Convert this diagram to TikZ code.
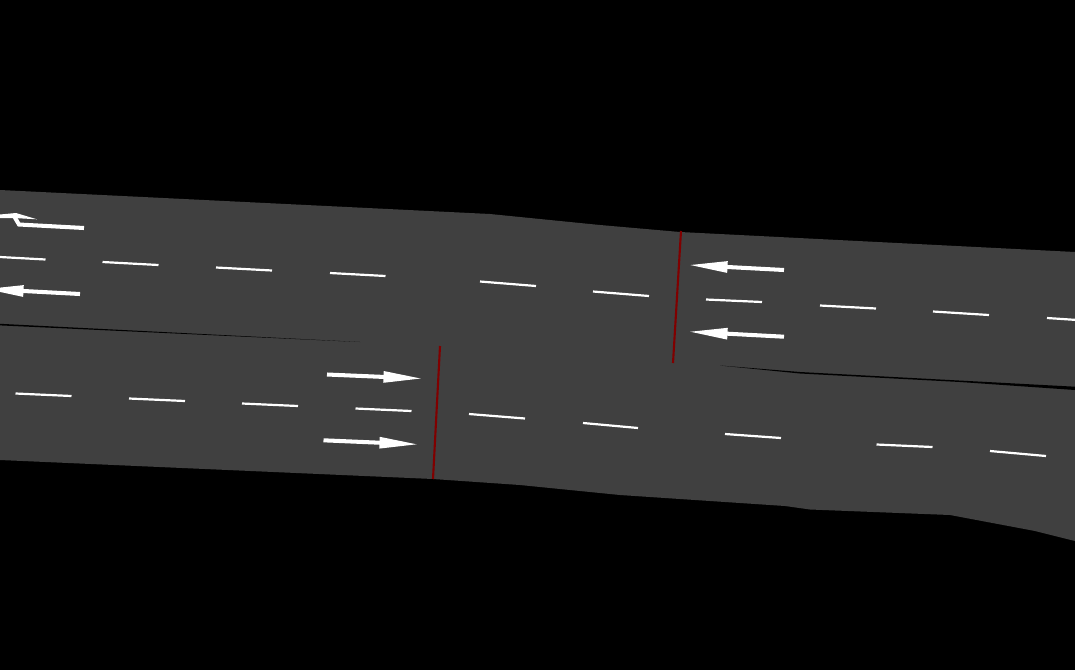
\documentclass[tikz,border=0pt]{standalone}
\usetikzlibrary{arrows.meta}

\definecolor{roadgray}{HTML}{404040}
\definecolor{stopred}{HTML}{800000}

\begin{document}
\begin{tikzpicture}[
        x=0.02cm, y=-0.02cm,
        road/.style={fill=roadgray, draw=none},
        median/.style={fill=black, draw=none},
        lane_mark/.style={draw=white, line width=1.25pt},
        stop_line/.style={draw=stopred, line width=1.2pt},
        lane_arrow/.style={draw=white, line width=2.3pt, -{Triangle[length=22.5pt, width=6pt]}}
    ]
        % Background
        \fill[black] (0, 0) rectangle (1075, 670);
        \useasboundingbox (0, 0) rectangle (1075, 670);
        \clip (0, 0) rectangle (1075, 670);

        % Road
        \path[road] (0, 190) -- (490, 214) -- (600, 225) -- (680, 232) -- (1075, 252)
            -- (1075, 541) -- (1035, 531) -- (950, 515) -- (810, 509.5) -- (785, 506)
            -- (620, 495) -- (520, 485) -- (433, 479) -- (0, 460) -- cycle;

        % Median
        \path[median] (0, 323.8) -- (360, 342) -- (0, 325.4) -- cycle;
        \path[median] (720, 365.5) -- (800, 372) -- (1075, 386.7) -- (1075, 390)
            -- (960, 382) -- (800, 373.5) -- cycle;

        % Lane marks
        \foreach \xa/\ya/\xb/\yb in {
            0/257/45.5/259.5, 102.5/262/158.5/265, 216/267.5/272/270.5, 330/273/385.5/276,
            480/281.5/536/286, 593/291.5/649/296, 706/299.5/762/302, 820/305.5/876/308.5,
            933/311.5/989/315, 1047/318/1085/320.5,
            15.5/393.5/71.5/396, 129/398.5/185/401, 242/403.5/298/406, 355.5/408.5/411.5/411,
            469/414/525/418.5, 583/423/638/428, 725/434/781/438, 876.5/444.5/932.5/447,
            990/451/1046/456}
            \draw[lane_mark] (\xa, \ya) -- (\xb, \yb);

        % Stop lines
        \draw[stop_line] (681, 231) -- (673, 363);
        \draw[stop_line] (440, 346) -- (433, 479);

        % Arrows
        \draw[lane_arrow] (327, 374.5) -- (423, 378.6);
        \draw[lane_arrow] (323.5, 440.3) -- (419, 444.4);
        \draw[lane_arrow] (784, 270) -- (688, 264.9);
        \draw[lane_arrow] (784, 336.7) -- (688, 331.6);
        \draw[lane_arrow] (80, 294) -- (-16, 288.9);

        % Turn arrow
        \draw[draw=white, line width=2.3pt] (84, 228) -- (19, 224.5) -- (14, 216);
        \fill[white] (0, 214.5) -- (16, 213) -- (37, 219.3) -- (14, 218) -- (0, 218) -- cycle;
    \end{tikzpicture}
\end{document}
